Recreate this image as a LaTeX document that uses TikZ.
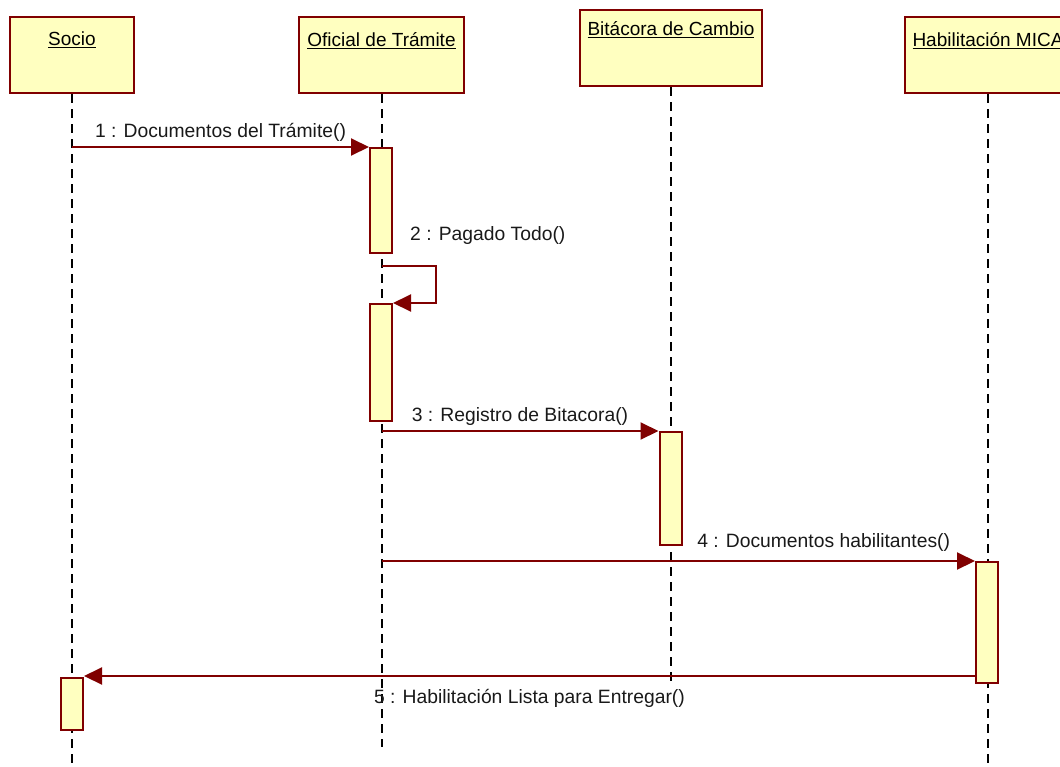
\documentclass[tikz,border=0pt]{standalone}
\usepackage{fontspec}
\setmainfont{Liberation Sans}
\usetikzlibrary{positioning, arrows.meta, calc}

\definecolor{umlred}{RGB}{128,0,0}
\definecolor{umlfill}{RGB}{255,255,192}

\tikzset{
  objbox/.style={draw=umlred, fill=umlfill, line width=2pt, minimum width=#1, minimum height=76pt, inner sep=0pt},
  actbox/.style={draw=umlred, fill=umlfill, line width=2pt, minimum width=22pt, minimum height=#1, inner sep=0pt},
  lifeline/.style={draw=black, line width=2pt, dash pattern=on 9pt off 6pt},
  msg/.style={draw=umlred, line width=2pt, -{Triangle[length=18pt,width=17pt]}},
  msgtext/.style={font=\fontsize{19.3pt}{22pt}\selectfont, text=black!90, inner sep=2pt},
}

\begin{document}
\begin{tikzpicture}[x=1pt, y=-1pt, font=\fontsize{19pt}{22pt}\selectfont]
			\clip (0, 0) rectangle (1060, 766);
			% objects
			\node[objbox=124pt, label={[anchor=north, inner sep=0pt, yshift=-16pt]north:\underline{Socio}}] at (72, 55) (socio) {};
			\node[objbox=165pt, label={[anchor=north, inner sep=0pt, yshift=-16pt]north:\underline{Oficial de Trámite}}] at (381.5, 55) (oficial) {};
			\node[objbox=182pt, label={[anchor=north, inner sep=0pt, yshift=-12pt]north:\underline{Bitácora de Cambio}}] at (671, 48) (bitacora) {};
			\node[objbox=166pt, label={[anchor=north, inner sep=0pt, yshift=-16pt]north:\underline{Habilitación MICA}}] at (988, 55) (mica) {};
			% lifelines
			\path (socio.south) ++(0, 669) coordinate (socio-end);
			\path (oficial.south) ++(0, 653) coordinate (oficial-end);
			\path (bitacora.south) ++(0, 596) coordinate (bitacora-end);
			\path (mica.south) ++(0, 669) coordinate (mica-end);
			\draw[lifeline] (socio.south) -- (socio-end);
			\draw[lifeline] (oficial.south) -- (oficial-end);
			\draw[lifeline] (bitacora.south) -- (bitacora-end);
			\draw[lifeline] (mica.south) -- (mica-end);
			% activations
			\node[actbox=105pt] at (381, 200.5) (act1) {};
			\node[actbox=117pt] at (381, 362.5) (act2) {};
			\node[actbox=113pt] at (670.5, 488.5) (act3) {};
			\node[actbox=121pt] at (987, 622.5) (act4) {};
			\node[actbox=52pt] at (72, 704) (act5) {};
			% messages
			\draw[msg] (socio.south |- act1.north) -- node[msgtext, above=3pt] {1 : Documentos del Trámite()} (act1.north west);
			\coordinate (self-out) at ($(oficial.south |- act1.south)+(0, 12)$);
			\draw[msg] (self-out) -- ++(54, 0) |- (act2.north east);
			\node[msgtext, anchor=base west] at ($(act1.south east)+(15, -14)$) (pagado) {2 : Pagado Todo()};
			\draw[msg] (oficial.south |- act3.north) -- node[msgtext, above=3pt] {3 : Registro de Bitacora()} (act3.north west);
			\draw[msg] (oficial.south |- act4.north) -- node[msgtext, above=7pt, pos=0.745] {4 : Documentos habilitantes()} (act4.north west);
			\draw[msg] ($(act4.west |- act5.north)+(0, -1)$) -- node[msgtext, below=10pt] {5 : Habilitación Lista para Entregar()} ($(act5.north east)+(0, -1)$);
		\end{tikzpicture}
\end{document}
